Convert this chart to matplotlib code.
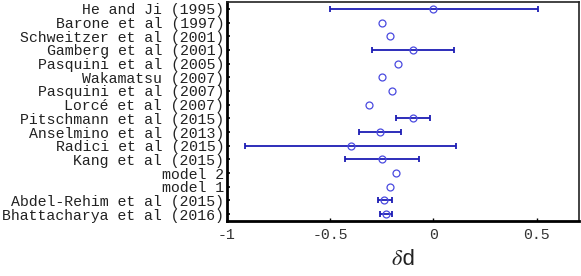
import matplotlib
matplotlib.use("Agg")
import matplotlib.pyplot as plt
import numpy as np

labels = ["He and Ji (1995)", "Barone et al (1997)", "Schweitzer et al (2001)",
          "Gamberg et al (2001)", "Pasquini et al (2005)", "Wakamatsu (2007)",
          "Pasquini et al (2007)", "Lorcé et al (2007)", "Pitschmann et al (2015)",
          "Anselmino et al (2013)", "Radici et al (2015)", "Kang et al (2015)",
          "model 2", "model 1", "Abdel-Rehim et al (2015)", "Bhattacharya et al (2016)"]
values = [0.00, -0.25, -0.21, -0.10, -0.17, -0.25, -0.20, -0.31,
          -0.10, -0.26, -0.40, -0.25, -0.18, -0.21, -0.24, -0.23]
err_low = [-0.50, None, None, -0.30, None, None, None, None,
           -0.18, -0.36, -0.915, -0.43, None, None, -0.27, -0.26]
err_high = [0.505, None, None, 0.10, None, None, None, None,
            -0.015, -0.155, 0.11, -0.07, None, None, -0.20, -0.20]
xticks = [-1, -0.5, 0, 0.5]
xticklabels = ["-1", "-0.5", "0", "0.5"]

plt.rcParams["mathtext.fontset"] = "stix"
mono = "Liberation Mono"
fig = plt.figure(figsize=(5.81, 2.76), dpi=100)
ax = fig.add_axes([227/581, 1 - 221/276, (579-227)/581, (221-2)/276])

pos = np.arange(len(labels))
for i, (v, lo, hi) in enumerate(zip(values, err_low, err_high)):
    if lo is not None:
        ax.errorbar([v], [i], xerr=[[v - lo], [hi - v]], fmt="none",
                    ecolor="#1c1cb4", elinewidth=1.3, capsize=2, capthick=1.3)
ax.plot(values, pos, "o", mfc="none", mec="#4a4ae0", ms=5, mew=0.9)

ax.set_xlim(-1, 0.705)
ax.set_ylim(15.5, -0.5)
ax.set_yticks(pos)
ax.set_yticklabels(labels, fontfamily=mono, fontsize=10.7, color="#222222")
ax.set_xticks(xticks)
ax.set_xticklabels(xticklabels, fontfamily=mono, fontsize=10.7, color="#333333")
ax.tick_params(axis="y", direction="in", length=2.5, width=1.2, pad=2)
ax.tick_params(axis="x", direction="in", length=2.5, width=1.0, pad=5)
for s in ["left", "bottom"]:
    ax.spines[s].set_linewidth(2.0)
    ax.spines[s].set_color("black")
for s in ["top", "right"]:
    ax.spines[s].set_linewidth(1.2)
    ax.spines[s].set_color("#222222")
ax.set_xlabel(r"$\delta$d", fontfamily=mono, fontsize=16, labelpad=5, color="#222222")

fig.savefig("out.png", dpi=100)
